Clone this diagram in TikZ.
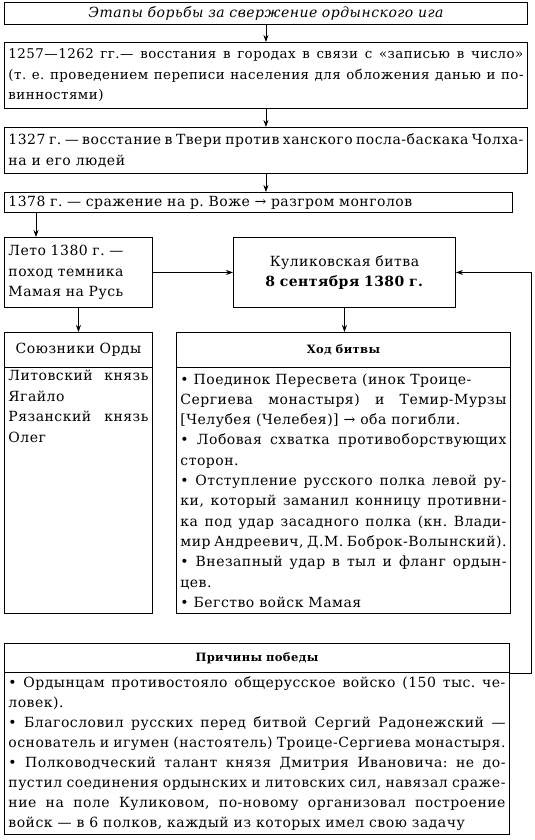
\documentclass[tikz,border=0pt]{standalone}
\usepackage{fontspec}
\setmainfont{DejaVu Serif}[LetterSpace=3.5]
\usetikzlibrary{arrows.meta, positioning}
\frenchspacing

\begin{document}
\begin{tikzpicture}[x=1pt, y=1pt,
  every node/.style={font=\fontsize{14}{20.5}\selectfont},
  box/.style={rectangle, draw, line width=0.9pt, anchor=north west, inner xsep=4pt, inner ysep=1pt},
  head/.style={box, align=center, font=\fontsize{11.5}{14}\selectfont\bfseries},
  arr/.style={-{Stealth[length=7pt, width=5pt]}, line width=0.8pt},
]
  \useasboundingbox (0,0) rectangle (535,-840);

  % chain of stages
  \node[box, text width=515pt, minimum height=22pt, align=center, font=\fontsize{14}{16}\selectfont\itshape] (title) at (4,-2) {Этапы борьбы за свержение ордынского ига};
  \node[box, text width=515pt, minimum height=66pt, align=justify, font=\fontsize{13.4}{20.5}\selectfont] (b1257) at (4,-42) {1257—1262 гг.— восстания в городах в связи с «записью в число»\linebreak (т.~е. проведением переписи населения для обложения данью и по-\linebreak винностями)};
  \node[box, text width=515pt, minimum height=46pt, align=justify] (b1327) at (4,-127) {1327 г. — восстание в Твери против ханского посла-баскака Чолха-\linebreak на и его людей};
  \node[box, text width=500pt, minimum height=20pt, align=left] (b1378) at (4,-192) {1378 г. — сражение на р. Воже → разгром монголов};

  % 1380
  \node[box, text width=140pt, minimum height=70pt, align=left] (leto) at (4,-237) {Лето 1380 г. —\\ поход темника\\ Мамая на Русь};
  \node[box, text width=214pt, minimum height=70pt, align=center] (kulik) at (233,-237) {Куликовская битва\\ \textbf{8 сентября 1380 г.}};

  % allies and course of the battle
  \node[box, text width=140pt, minimum height=35pt, align=center] (ahead) at (4,-332) {Союзники Орды};
  \node[box, inner ysep=3pt] (abody) at (4,-367) {\parbox[t][240pt][t]{140pt}{Литовский князь\linebreak Ягайло\newline Рязанский князь\linebreak Олег}};
  \node[head, text width=326pt, minimum height=35pt] (chead) at (176,-332) {Ход битвы};
  \node[box, text width=326pt, minimum height=246pt, align=justify, font=\fontsize{14}{20.3}\selectfont] (cbody) at (176,-367) {• Поединок Пересвета (инок Троице-\newline
    Сергиева монастыря) и Темир-Мурзы\linebreak
    {[}Челубея (Челебея)] → оба погибли.\newline
    • Лобовая схватка противоборствующих\linebreak
    сторон.\newline
    • Отступление русского полка левой ру-\linebreak
    ки, который заманил конницу противни-\linebreak
    ка под удар засадного полка (кн. Влади-\linebreak
    мир Андреевич, Д.М. Боброк-Волынский).\linebreak
    • Внезапный удар в тыл и фланг ордын-\linebreak
    цев.\newline
    • Бегство войск Мамая};

  % reasons
  \node[head, text width=497pt, minimum height=29pt] (rhead) at (4,-643) {Причины победы};
  \node[box, text width=497pt, minimum height=162pt, align=justify, font=\fontsize{14}{20}\selectfont] (rbody) at (4,-672) {• Ордынцам противостояло общерусское войско (150 тыс. че-\linebreak
    ловек).\newline
    • Благословил русских перед битвой Сергий Радонежский —\linebreak
    основатель и игумен (настоятель) Троице-Сергиева монастыря.\linebreak
    • Полководческий талант князя Дмитрия Ивановича: не до-\linebreak
    пустил соединения ордынских и литовских сил, навязал сраже-\linebreak
    ние на поле Куликовом, по-новому организовал построение\linebreak
    войск — в 6 полков, каждый из которых имел свою задачу};

  \draw[arr] (title) -- (b1257);
  \draw[arr] (b1257) -- (b1327);
  \draw[arr] (b1327.south) -- (b1327.south |- b1378.north);
  \draw[arr] ([xshift=32pt]b1378.south west) -- ([xshift=32pt]leto.north west);
  \draw[arr] (leto) -- (kulik);
  \draw[arr] (leto) -- (ahead);
  \draw[arr] (kulik.south) -- (kulik.south |- chead.north);
  \draw[arr] (rhead.south east) -- ++(21,0) |- (kulik.east);
\end{tikzpicture}
\end{document}
